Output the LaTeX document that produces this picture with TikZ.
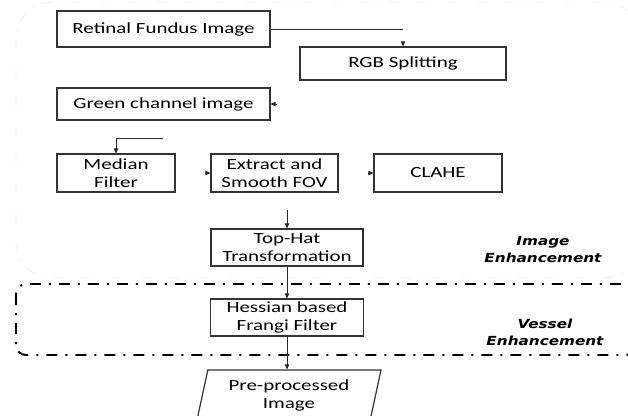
\documentclass[tikz,border=0pt]{standalone}
\usepackage{fontspec}
\setmainfont{Carlito}[FakeStretch=1.35]
\newfontfamily\labfont{DejaVu Sans}[FakeStretch=1.22]
\usetikzlibrary{arrows.meta,shapes.geometric}
\begin{document}
\begin{tikzpicture}[x=1pt,y=-1pt,
  box/.style={draw=black!80,line width=1.2pt,inner sep=0pt,align=center,font=\fontsize{15.5}{18}\selectfont},
  arr/.style={line width=0.9pt,draw=black!85,-{Triangle[length=5pt,width=4.5pt]}},
  conn/.style={line width=0.9pt,draw=black!85},
  region/.style={line width=1.9pt,rounded corners=10pt,dash pattern=on 11pt off 8pt on 2pt off 8pt},
  faint/.style={line width=0.8pt,draw=black!6,rounded corners=36pt,dash pattern=on 11pt off 8pt on 2pt off 8pt},
  lab/.style={font=\labfont\bfseries\itshape\fontsize{12.5}{17}\selectfont,align=center}]
\useasboundingbox (0,0) rectangle (628,415);
\clip (0,0) rectangle (628,415);
% regions
\draw[faint] (16,2) rectangle (640,278);
\draw[region] (16,284) rectangle (636,355);
% boxes
\node[box,minimum width=213pt,minimum height=36pt] (rfi) at (163.5,29) {Retinal Fundus Image};
\node[box,minimum width=206pt,minimum height=33pt] (rgb) at (403,63.5) {RGB Splitting};
\node[box,minimum width=213pt,minimum height=32pt] (green) at (163.5,104) {Green channel image};
\node[box,minimum width=118pt,minimum height=38pt] (median) at (116,173) {Median\\Filter};
\node[box,minimum width=127pt,minimum height=38pt] (extract) at (274.5,173) {Extract and\\Smooth FOV};
\node[box,minimum width=128pt,minimum height=38pt] (clahe) at (438,173) {CLAHE};
\node[box,minimum width=152pt,minimum height=37pt] (tophat) at (287,247.5) {Top-Hat\\Transformation};
\node[box,minimum width=153pt,minimum height=37pt] (hessian) at (287,317.5) {Hessian based\\Frangi Filter};
\node[box,shape=trapezium,trapezium left angle=71,trapezium right angle=109,trapezium stretches body,
      minimum width=184pt,minimum height=50pt] (pre) at (289,395) {Pre-processed\\Image};
% labels
\node[lab] (lie) at (543,250) {Image\\Enhancement};
\node[lab] (lve) at (545,332) {Vessel\\Enhancement};
% connectors
\coordinate (c1) at (403,29);
\coordinate (c1s) at (403,42);
\draw[conn] (rfi.east |- c1) -- (c1);
\draw[arr] (c1s) -- (c1s |- rgb.north);
\coordinate (c2s) at (277,104);
\draw[arr] (c2s) -- (c2s -| green.east);
\coordinate (c3) at (163,138);
\draw[arr] (c3) -| (median.north);
\coordinate (c4s) at (205,173);
\draw[arr] (c4s) -- (extract.west);
\coordinate (c5s) at (368,173);
\draw[arr] (c5s) -- (clahe.west);
\coordinate (c6) at (287,210);
\draw[arr] (c6) -- (tophat.north);
\draw[arr] (tophat.south) -- (hessian.north);
\draw[arr] (hessian.south) -- (hessian.south |- pre.north);
\end{tikzpicture}
\end{document}
